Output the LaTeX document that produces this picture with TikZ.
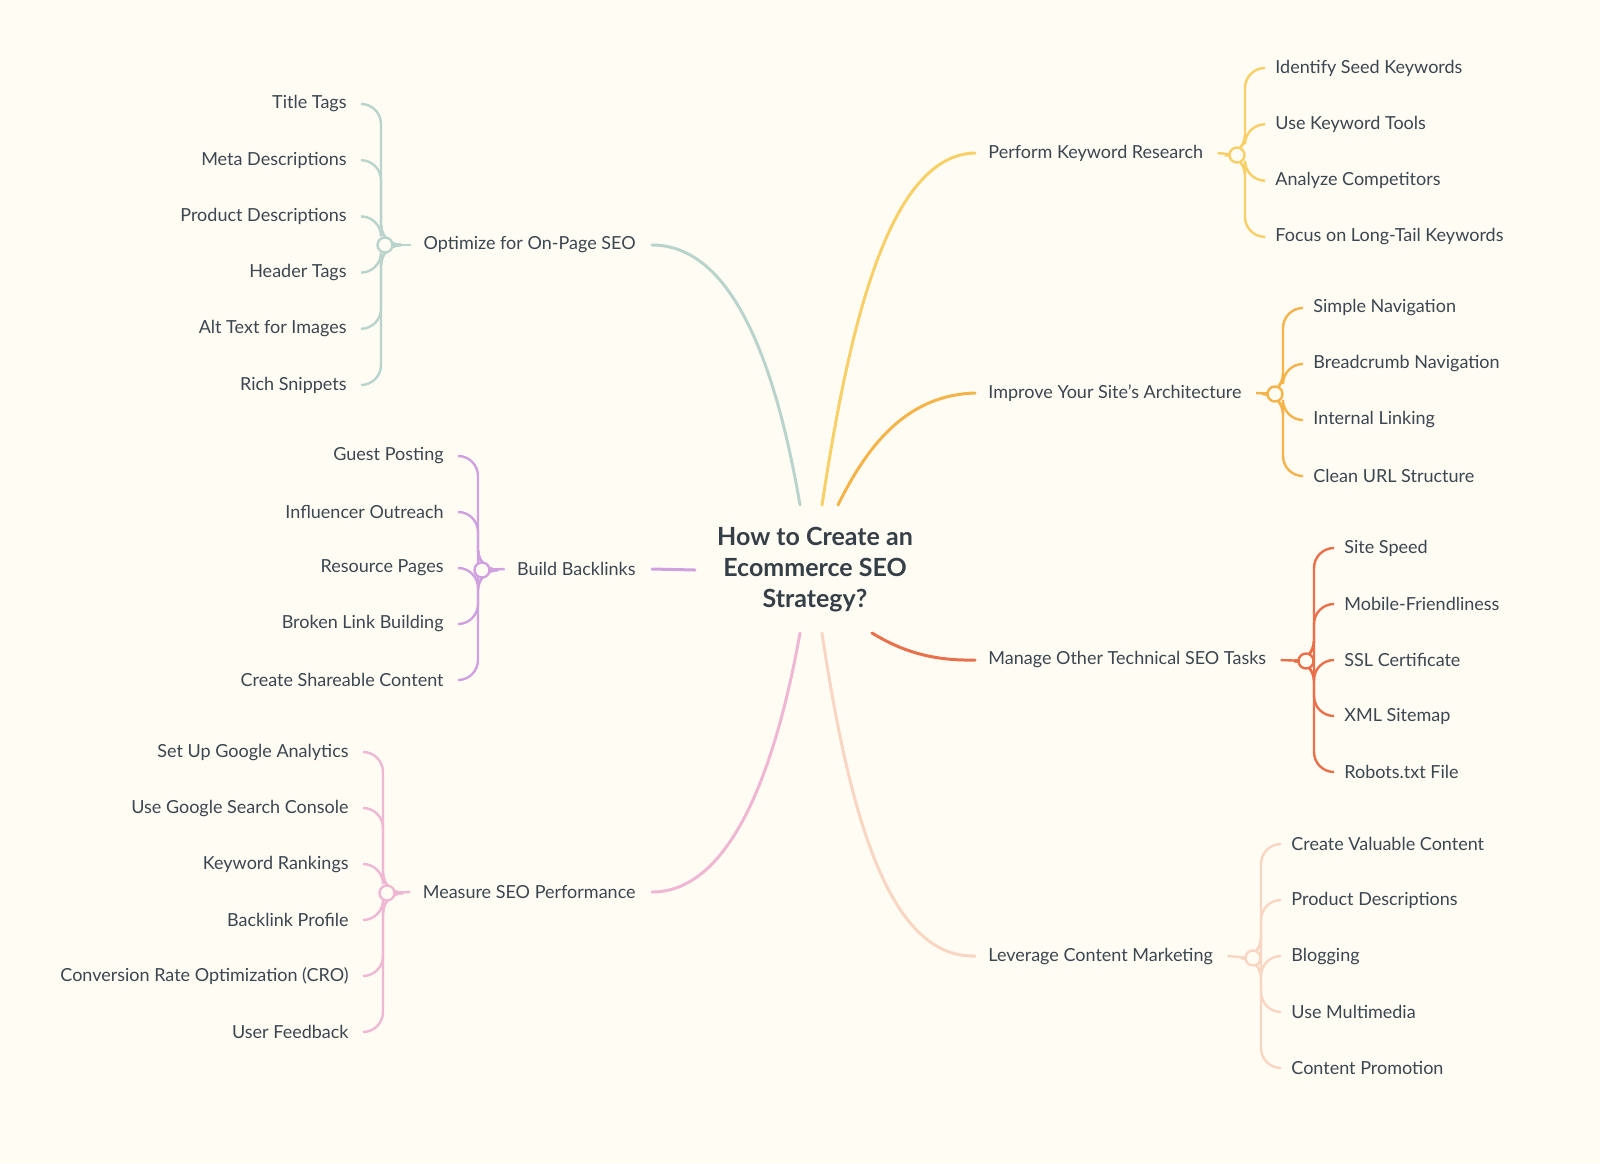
\documentclass[tikz,border=0pt]{standalone}
\usepackage{fontspec}
\setmainfont{Lato}
\usetikzlibrary{calc,positioning}
\definecolor{paper}{HTML}{FFFCF4}
\definecolor{ink}{HTML}{3B4650}
\definecolor{kwcol}{HTML}{F8D067}
\definecolor{archcol}{HTML}{F4B449}
\definecolor{techcol}{HTML}{E8704A}
\definecolor{contcol}{HTML}{F8D6C2}
\definecolor{pagecol}{HTML}{B8D4CD}
\definecolor{linkcol}{HTML}{CFA1DE}
\definecolor{perfcol}{HTML}{EFB7D4}
\tikzset{
  topic/.style={inner sep=0pt, font=\fontsize{9}{11}\selectfont, text=ink},
  kid/.style={inner sep=0pt, font=\fontsize{9}{11}\selectfont, text=ink},
  trunk/.style={line width=1.5pt, line cap=round},
  twig/.style={line width=1.2pt, rounded corners=10pt},
  knot/.style={circle, draw=#1, line width=1.2pt, fill=paper, inner sep=0pt, minimum size=7.5pt}
}
\begin{document}
\begin{tikzpicture}[x=0.5pt,y=-0.5pt]
\fill[paper] (0,0) rectangle (1600,1163);
\useasboundingbox (0,0) rectangle (1600,1163);

% centre
\node[inner sep=0pt, align=center, text=ink!90!black, font=\bfseries\fontsize{12.5}{15.5}\selectfont] (root) at (815,570)
  {How to Create an\\Ecommerce SEO\\Strategy?};

% right side topics
\node[topic, anchor=west] (kw) at (988,153) {Perform Keyword Research};
\node[topic, anchor=west] (arch) at (988,393) {Improve Your Site’s Architecture};
\node[topic, anchor=west] (tech) at (988,660) {Manage Other Technical SEO Tasks};
\node[topic, anchor=west] (cont) at (988,956) {Leverage Content Marketing};
% left side topics
\node[topic, anchor=east] (page) at (636,245) {Optimize for On-Page SEO};
\node[topic, anchor=east] (link) at (636,569) {Build Backlinks};
\node[topic, anchor=east] (perf) at (636,892) {Measure SEO Performance};

% trunks
\draw[trunk, kwcol] (822,505) .. controls (850,320) and (890,155) .. ($(kw.west)+(-13,0)$);
\draw[trunk, archcol] (838,505) .. controls (870,440) and (910,395) .. ($(arch.west)+(-13,0)$);
\draw[trunk, techcol] (872,633) .. controls (900,650) and (930,661) .. ($(tech.west)+(-13,0)$);
\draw[trunk, contcol] (822,633) .. controls (850,820) and (890,958) .. ($(cont.west)+(-13,0)$);
\draw[trunk, pagecol] (800,505) .. controls (770,330) and (720,245) .. ($(page.east)+(16,0)$);
\draw[trunk, linkcol] (695,570) -- ($(link.east)+(16,0)$);
\draw[trunk, perfcol] (800,633) .. controls (770,800) and (720,892) .. ($(perf.east)+(16,0)$);

% right side groups
\coordinate (kwj) at (1237,155);
\foreach \t [count=\i] in {Identify Seed Keywords,Use Keyword Tools,Analyze Competitors,Focus on Long-Tail Keywords}{
  \node[kid, anchor=west] (kw\i) at (1275,{68+(\i-1)*56.3}) {\t};
  \draw[twig, kwcol] (kwj) -- ++(8,0) |- ($(kw\i.west)+(-12,0)$);
}
\draw[twig, kwcol] ($(kw.east)+(14,0)$) -- (kwj);
\node[knot=kwcol] at (kwj) {};

\coordinate (archj) at (1275,394);
\foreach \t [count=\i] in {Simple Navigation,Breadcrumb Navigation,Internal Linking,Clean URL Structure}{
  \node[kid, anchor=west] (arch\i) at (1313,{308+(\i-1)*56}) {\t};
  \draw[twig, archcol] (archj) -- ++(8,0) |- ($(arch\i.west)+(-12,0)$);
}
\draw[twig, archcol] ($(arch.east)+(14,0)$) -- (archj);
\node[knot=archcol] at (archj) {};

\coordinate (techj) at (1306,661);
\foreach \t [count=\i] in {Site Speed,Mobile-Friendliness,SSL Certificate,XML Sitemap,Robots.txt File}{
  \node[kid, anchor=west] (tech\i) at (1344,{548+(\i-1)*56}) {\t};
  \draw[twig, techcol] (techj) -- ++(8,0) |- ($(tech\i.west)+(-12,0)$);
}
\draw[twig, techcol] ($(tech.east)+(14,0)$) -- (techj);
\node[knot=techcol] at (techj) {};

\coordinate (contj) at (1253,958);
\foreach \t [count=\i] in {Create Valuable Content,Product Descriptions,Blogging,Use Multimedia,Content Promotion}{
  \node[kid, anchor=west] (cont\i) at (1291,{844+(\i-1)*56}) {\t};
  \draw[twig, contcol] (contj) -- ++(8,0) |- ($(cont\i.west)+(-12,0)$);
}
\draw[twig, contcol] ($(cont.east)+(14,0)$) -- (contj);
\node[knot=contcol] at (contj) {};

% left side groups
\coordinate (pagej) at (385,245);
\foreach \t [count=\i] in {Title Tags,Meta Descriptions,Product Descriptions,Header Tags,Alt Text for Images,Rich Snippets}{
  \node[kid, anchor=east] (page\i) at (347,{104+(\i-1)*56.2}) {\t};
  \draw[twig, pagecol] (pagej) -- ++(-4,0) |- ($(page\i.east)+(14,0)$);
}
\draw[twig, pagecol] ($(page.west)+(-12,0)$) -- (pagej);
\node[knot=pagecol] at (pagej) {};

\coordinate (linkj) at (482,570);
\foreach \t [count=\i] in {Guest Posting,Influencer Outreach,Resource Pages,Broken Link Building,Create Shareable Content}{
  \node[kid, anchor=east] (link\i) at (444,{456+(\i-1)*56}) {\t};
  \draw[twig, linkcol] (linkj) -- ++(-4,0) |- ($(link\i.east)+(14,0)$);
}
\draw[twig, linkcol] ($(link.west)+(-12,0)$) -- (linkj);
\node[knot=linkcol] at (linkj) {};

\coordinate (perfj) at (387,893);
\foreach \t [count=\i] in {Set Up Google Analytics,Use Google Search Console,Keyword Rankings,Backlink Profile,Conversion Rate Optimization (CRO),User Feedback}{
  \node[kid, anchor=east] (perf\i) at (349,{752+(\i-1)*56}) {\t};
  \draw[twig, perfcol] (perfj) -- ++(-4,0) |- ($(perf\i.east)+(14,0)$);
}
\draw[twig, perfcol] ($(perf.west)+(-12,0)$) -- (perfj);
\node[knot=perfcol] at (perfj) {};
\end{tikzpicture}
\end{document}
